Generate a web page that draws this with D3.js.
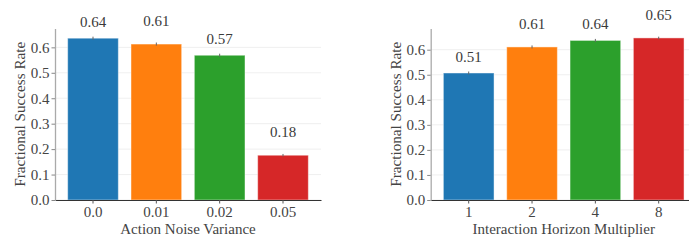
<!DOCTYPE html>
<html>
<head>
<meta charset="utf-8">
<script src="https://cdn.jsdelivr.net/npm/d3@7"></script>
<style>
    html, body { margin: 0; padding: 0; background: #fff; }
    text { font-family: 'Liberation Serif', 'Times New Roman', 'DejaVu Serif', serif; }
</style>
</head>
<body>
<svg id="chart" width="689" height="241"></svg>
<script>
// ===== DATA =====
const noiseCats    = ['0.0', '0.01', '0.02', '0.05'];
const noiseVals    = [0.636, 0.613, 0.569, 0.176];
const noiseErr     = [0.006, 0.006, 0.006, 0.005];

const horizonCats  = ['1', '2', '4', '8'];
const horizonVals  = [0.507, 0.611, 0.637, 0.647];
const horizonErr   = [0.006, 0.006, 0.006, 0.005];

const yTicks       = [0, 0.1, 0.2, 0.3, 0.4, 0.5, 0.6];
const barColors    = ['#1f77b4', '#ff7f0e', '#2ca02c', '#d62728'];

const yLabel       = 'Fractional Success Rate';

// ===== LAYOUT =====
const FONT = "'Liberation Serif', 'Times New Roman', serif";
const svg = d3.select('#chart');
const TOP = 28.5, BOTTOM = 200, PLOT_W = 266;

function drawPanel(left, cats, vals, errs, xLabel) {
    const g = svg.append('g');

    const x = d3.scaleBand()
        .domain(cats)
        .range([left, left + PLOT_W])
        .paddingInner(0.2)
        .paddingOuter(0.2);

    const ymax = d3.max(vals.map((v, i) => v + errs[i])) * 1.05;
    const y = d3.scaleLinear().domain([0, ymax]).range([BOTTOM, TOP]);

    // light grid
    g.selectAll('.grid')
        .data(yTicks)
        .enter().append('line')
        .attr('x1', left).attr('x2', left + PLOT_W)
        .attr('y1', d => y(d)).attr('y2', d => y(d))
        .attr('stroke', '#ebebeb')
        .attr('stroke-width', 0.8);

    // bars
    g.selectAll('.bar')
        .data(vals)
        .enter().append('rect')
        .attr('x', (d, i) => x(cats[i]))
        .attr('y', d => y(d))
        .attr('width', x.bandwidth())
        .attr('height', d => BOTTOM - y(d))
        .attr('fill', (d, i) => barColors[i])
        .attr('stroke', '#fff')
        .attr('stroke-opacity', 0.45)
        .attr('stroke-width', 1);

    // error bars
    g.selectAll('.err')
        .data(vals)
        .enter().append('line')
        .attr('x1', (d, i) => x(cats[i]) + x.bandwidth() / 2)
        .attr('x2', (d, i) => x(cats[i]) + x.bandwidth() / 2)
        .attr('y1', (d, i) => y(d - errs[i]))
        .attr('y2', (d, i) => y(d + errs[i]))
        .attr('stroke', '#666')
        .attr('stroke-width', 1);

    // value labels, staggered
    const offsets = [0.045, 0.072];
    g.selectAll('.val')
        .data(vals)
        .enter().append('text')
        .attr('x', (d, i) => x(cats[i]) + x.bandwidth() / 2)
        .attr('y', (d, i) => y(d + offsets[i % 2]))
        .attr('text-anchor', 'middle')
        .attr('font-family', FONT)
        .attr('font-size', 15)
        .attr('fill', '#3a3a3a')
        .text(d => d.toFixed(2));

    // x axis
    const xAxis = g.append('g')
        .attr('transform', `translate(0,${BOTTOM})`)
        .call(d3.axisBottom(x).tickSize(3.5).tickSizeOuter(0).tickPadding(3));
    xAxis.attr('font-family', FONT);
    xAxis.select('.domain').attr('stroke', '#333').attr('stroke-width', 1.1);
    xAxis.selectAll('.tick line').attr('stroke', '#555');
    xAxis.selectAll('.tick text')
        .attr('font-size', 15)
        .attr('font-family', FONT)
        .attr('fill', '#444');

    // y axis
    const yAxis = g.append('g')
        .attr('transform', `translate(${left},0)`)
        .call(d3.axisLeft(y).tickValues(yTicks).tickFormat(d3.format('.1f'))
            .tickSize(3.5).tickSizeOuter(0).tickPadding(2));
    yAxis.attr('font-family', FONT);
    yAxis.select('.domain').attr('stroke', '#aaa').attr('stroke-width', 1.3);
    yAxis.selectAll('.tick line').attr('stroke', '#888');
    yAxis.selectAll('.tick text')
        .attr('font-size', 15)
        .attr('font-family', FONT)
        .attr('fill', '#444');

    // axis titles
    g.append('text')
        .attr('x', left + PLOT_W / 2)
        .attr('y', 234)
        .attr('text-anchor', 'middle')
        .attr('font-family', FONT)
        .attr('font-size', 15)
        .attr('fill', '#444')
        .text(xLabel);

    g.append('text')
        .attr('transform', `translate(${left - 30},${(TOP + BOTTOM) / 2}) rotate(-90)`)
        .attr('text-anchor', 'middle')
        .attr('font-family', FONT)
        .attr('font-size', 15.2)
        .attr('fill', '#444')
        .text(yLabel);
}

drawPanel(55, noiseCats, noiseVals, noiseErr, 'Action Noise Variance');
drawPanel(430.7, horizonCats, horizonVals, horizonErr, 'Interaction Horizon Multiplier');
</script>
</body>
</html>
